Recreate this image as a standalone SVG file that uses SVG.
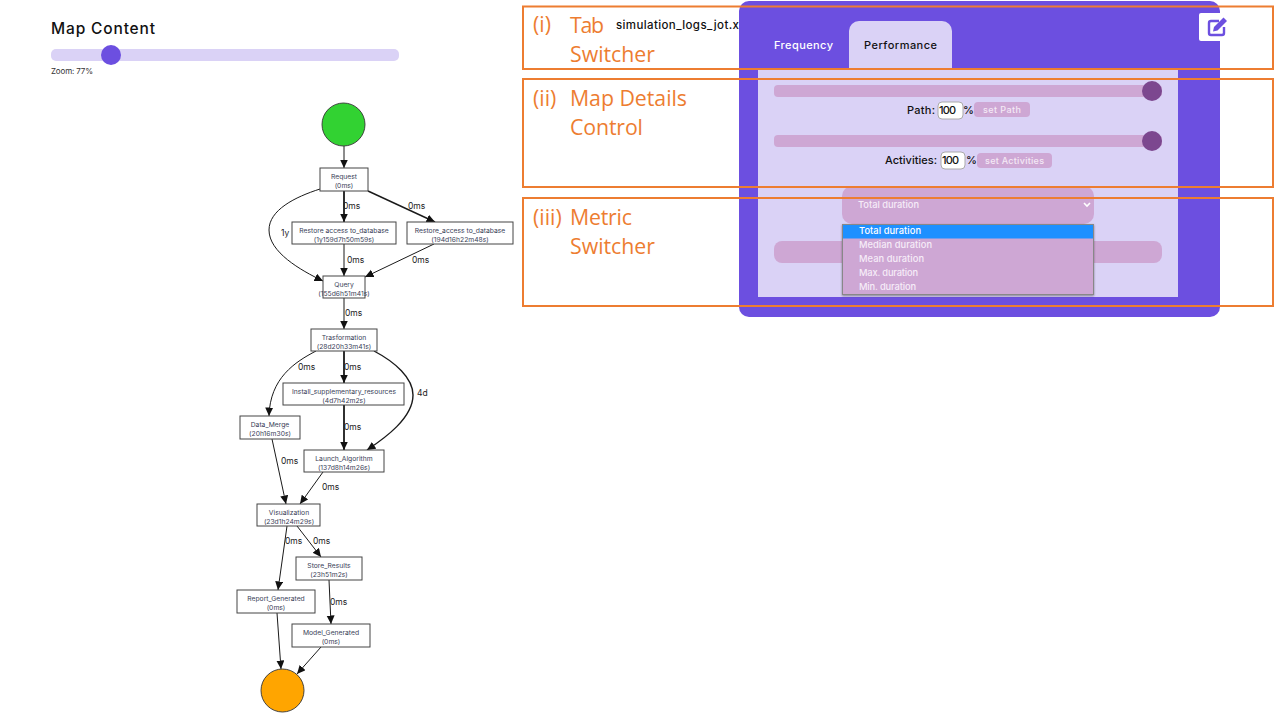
<svg xmlns="http://www.w3.org/2000/svg" width="1280" height="720" viewBox="0 0 1280 720">
<style>
text{font-family:"Inter","Open Sans","Liberation Sans",sans-serif}
.n rect{fill:#fff;stroke:#444;stroke-width:1}
.n text{font-size:6.75px;fill:#3a4258;text-anchor:middle}
.e{fill:none;stroke:#1a1a1a;stroke-width:1;marker-end:url(#a)}
.t{stroke-width:1.8}
.m{stroke-width:1.4}
.l{font-size:8.5px;fill:#222}
.o{font-family:"Open Sans","Noto Sans","Liberation Sans",sans-serif;font-size:21.3px;fill:#ed7d31}
.box{fill:none;stroke:#ed7d31;stroke-width:2}
.tr{fill:#cea7d4}
.th{fill:#7c478f}
.ui{font-size:11px;fill:#111;font-weight:500}
.w{font-size:9px;fill:#f4e9f6;font-weight:500}
.in{fill:#fff;stroke:#aaa;stroke-width:1}
.d{font-size:9.3px;fill:#f6ecf8;font-weight:500}
</style>
<defs>
<marker id="a" markerUnits="userSpaceOnUse" markerWidth="10" markerHeight="9" refX="8.500" refY="4" orient="auto"><path d="M0,0L8.500,4L0,8z" fill="#111"/></marker>
<filter id="s" x="-5%" y="-10%" width="110%" height="125%"><feDropShadow dx="0" dy="1" stdDeviation="1.2" flood-color="#000" flood-opacity=".4"/></filter>
</defs>
<rect width="1280" height="720" fill="#fff"/>
<g id="zoom-control">
<text x="51" y="34" font-size="15.5" font-weight="500" fill="#111" textLength="104">Map Content</text>
<rect x="51" y="49" width="348" height="12" rx="5" fill="#dad2f6"/>
<circle cx="111" cy="55" r="10" fill="#6c4fe0"/>
<text x="51" y="74" font-size="8" fill="#333" textLength="42">Zoom: 77%</text>
</g>
<g id="connectors">
<path class="e" d="M344,146V168"/>
<path class="e t" d="M344,191V222"/>
<path class="e m" d="M368,191L435,222"/>
<path class="e" d="M320,189C295,197 269,210 269,230C269,252 300,270 323,281"/>
<path class="e" d="M344,244V276"/>
<path class="e" d="M434,244L365,277"/>
<path class="e" d="M344,298V329"/>
<path class="e" d="M316,351C295,362 270,378 269,416"/>
<path class="e t" d="M344,351V383"/>
<path class="e m" d="M374,351C395,362 413,378 413,395C413,418 385,438 367,450"/>
<path class="e t" d="M344,405V450"/>
<path class="e" d="M272,439L286,504"/>
<path class="e" d="M323,472L300,504"/>
<path class="e" d="M287,526L278,590"/>
<path class="e" d="M297,526L321,557"/>
<path class="e" d="M329,580L331,624"/>
<path class="e" d="M277,613L281,669"/>
<path class="e" d="M321,647L297,674"/>
<text class="l" x="343" y="209">0ms</text>
<text class="l" x="408" y="209">0ms</text>
<text class="l" x="281" y="236">1y</text>
<text class="l" x="347" y="263">0ms</text>
<text class="l" x="412" y="263">0ms</text>
<text class="l" x="345" y="316">0ms</text>
<text class="l" x="298" y="370">0ms</text>
<text class="l" x="344" y="370">0ms</text>
<text class="l" x="417" y="396">4d</text>
<text class="l" x="344" y="430">0ms</text>
<text class="l" x="281" y="464">0ms</text>
<text class="l" x="322" y="490">0ms</text>
<text class="l" x="285" y="544">0ms</text>
<text class="l" x="313" y="544">0ms</text>
<text class="l" x="330" y="605">0ms</text>
</g>
<g id="start"><circle cx="343.5" cy="124.5" r="21.5" fill="#32d232" stroke="#333" stroke-width=".9"/></g>
<g id="end"><circle cx="282.5" cy="690.5" r="21.5" fill="#ffa500" stroke="#333" stroke-width=".9"/></g>
<g id="request" class="n"><rect x="320" y="168" width="48" height="23"/><text x="344" y="179">Request</text><text x="344" y="188">(0ms)</text></g>
<g id="restore1" class="n"><rect x="292" y="222" width="104" height="22"/><text x="344" y="232.500">Restore access to_database</text><text x="344" y="241.500">(1y159d7h50m59s)</text></g>
<g id="restore2" class="n"><rect x="407" y="222" width="106" height="22"/><text x="460" y="232.500">Restore_access to_database</text><text x="460" y="241.500">(194d16h22m48s)</text></g>
<g id="query" class="n"><rect x="323" y="276" width="42" height="22"/><text x="344" y="286.500">Query</text><text x="344" y="295.500">(155d6h51m41s)</text></g>
<g id="trasformation" class="n"><rect x="311" y="329" width="66" height="22"/><text x="344" y="339.500">Trasformation</text><text x="344" y="348.500">(28d20h33m41s)</text></g>
<g id="install" class="n"><rect x="283" y="383" width="121" height="22"/><text x="344" y="393.500">Install_supplementary_resources</text><text x="344" y="402.500">(4d7h42m2s)</text></g>
<g id="data-merge" class="n"><rect x="240" y="416" width="60" height="23"/><text x="270" y="427">Data_Merge</text><text x="270" y="436">(20h16m30s)</text></g>
<g id="launch" class="n"><rect x="304" y="450" width="80" height="22"/><text x="344" y="460.500">Launch_Algorithm</text><text x="344" y="469.500">(137d8h14m26s)</text></g>
<g id="visualization" class="n"><rect x="257" y="504" width="63" height="22"/><text x="289" y="514.500">Visualization</text><text x="289" y="523.500">(23d1h24m29s)</text></g>
<g id="store" class="n"><rect x="296" y="557" width="66" height="23"/><text x="329" y="568">Store_Results</text><text x="329" y="577">(23h51m2s)</text></g>
<g id="report" class="n"><rect x="237" y="590" width="78" height="23"/><text x="276" y="601">Report_Generated</text><text x="276" y="610">(0ms)</text></g>
<g id="model" class="n"><rect x="292" y="624" width="78" height="23"/><text x="331" y="635">Model_Generated</text><text x="331" y="644">(0ms)</text></g>
<g id="panel">
<text x="616" y="29" font-size="11.500" font-weight="500" fill="#111" textLength="123">simulation_logs_jot.x</text>
<path d="M739,307V11a10,10 0 0 1 10,-10H1210a10,10 0 0 1 10,10V307a10,10 0 0 1 -10,10H749a10,10 0 0 1 -10,-10z" fill="#6c4fe0"/>
<rect x="1199" y="13" width="29" height="28" rx="2" fill="#fff"/>
<path d="M1219,21h-8a2,2 0 0 0 -2,2v10a2,2 0 0 0 2,2h11a2,2 0 0 0 2,-2v-6" fill="none" stroke="#6c4fe0" stroke-width="2.400"/>
<path d="M1214,27l9.500,-9.500 3.500,3.500 -9.500,9.500 -4.500,1z" fill="#6c4fe0"/>
<rect x="758" y="68" width="420" height="229" fill="#dad2f6"/>
<path d="M849,68V31a10,10 0 0 1 10,-10H942a10,10 0 0 1 10,10V68z" fill="#dad2f6"/>
<text x="774" y="49" class="ui" style="fill:#fff" textLength="59">Frequency</text>
<text x="864" y="49" class="ui" textLength="73">Performance</text>
<rect class="tr" x="774" y="85" width="388" height="12" rx="4"/><circle class="th" cx="1152" cy="91" r="10"/>
<text x="907" y="114" class="ui" textLength="28">Path:</text>
<rect class="in" x="938" y="102" width="25" height="17" rx="4"/><text x="939" y="114" class="ui" textLength="17">100</text><text x="963" y="114" class="ui" textLength="8">%</text>
<rect class="tr" x="974" y="102" width="56" height="15" rx="4"/><text x="983" y="113" class="w" textLength="38">set Path</text>
<rect class="tr" x="774" y="135" width="388" height="12" rx="4"/><circle class="th" cx="1152" cy="141" r="10"/>
<text x="885" y="164" class="ui" textLength="52">Activities:</text>
<rect class="in" x="941" y="152" width="24" height="17" rx="4"/><text x="942" y="164" class="ui" textLength="17">100</text><text x="966" y="164" class="ui" textLength="8">%</text>
<rect class="tr" x="977" y="153" width="75" height="15" rx="4"/><text x="985" y="164" class="w" textLength="59">set Activities</text>
<rect class="tr" x="842" y="186" width="252" height="38" rx="10"/>
<text x="858" y="208" class="d" textLength="61">Total duration</text>
<path d="M1084,203l3,3 3,-3" fill="none" stroke="#fff" stroke-width="1.600"/>
<rect class="tr" x="774" y="241" width="388" height="22" rx="8"/>
<rect x="842.500" y="224.500" width="251" height="70" fill="#cea7d4" stroke="#888" filter="url(#s)"/>
<rect x="843" y="225" width="250" height="13.500" fill="#1e90ff"/>
<text x="859" y="234" class="d" style="fill:#fff" textLength="62">Total duration</text>
<text x="859" y="248" class="d" textLength="73">Median duration</text>
<text x="859" y="262" class="d" textLength="65">Mean duration</text>
<text x="859" y="276" class="d" textLength="59">Max. duration</text>
<text x="859" y="290" class="d" textLength="57">Min. duration</text>
</g>
<g id="annotations">
<rect class="box" x="523" y="6.500" width="750" height="62.500"/>
<rect class="box" x="523" y="79" width="750" height="108"/>
<rect class="box" x="523" y="198" width="750" height="108"/>
<text class="o" x="533" y="32">(i)</text><text class="o" x="570" y="33" textLength="34">Tab</text><text class="o" x="570" y="62" textLength="85">Switcher</text>
<text class="o" x="533" y="106">(ii)</text><text class="o" x="570" y="106" textLength="117">Map Details</text><text class="o" x="570" y="135" textLength="73">Control</text>
<text class="o" x="533" y="225">(iii)</text><text class="o" x="570" y="225" textLength="62">Metric</text><text class="o" x="570" y="254" textLength="85">Switcher</text>
</g>
</svg>
